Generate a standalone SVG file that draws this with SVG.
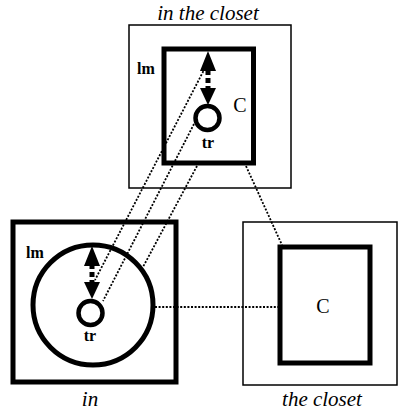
<svg xmlns="http://www.w3.org/2000/svg" width="400" height="413" viewBox="0 0 400 413">
<style>
.thin{fill:none;stroke:#000;stroke-width:1.5}
.thick{fill:none;stroke:#000;stroke-width:5}
.ring{fill:#fff;stroke:#000;stroke-width:4.5}
.head{fill:#000}
.shaft{stroke:#000;stroke-width:5;stroke-dasharray:5 3}
.dot{fill:none;stroke:#000;stroke-width:1.8;stroke-dasharray:2 1.6}
.title{font-family:"Liberation Serif",serif;font-style:italic;font-size:21px;text-anchor:middle}
.lab{font-family:"Liberation Serif",serif;font-weight:bold;font-size:16px}
.c{font-family:"Liberation Serif",serif;font-size:20px;text-anchor:middle}
</style>
<rect width="400" height="413" fill="#fff"/>
<g id="in-the-closet">
<rect class="thin" x="129" y="25" width="162" height="163"/>
<rect class="thick" x="164" y="49" width="89.5" height="114"/>
<text class="title" x="208" y="20">in the closet</text>
<text class="lab" x="137" y="74">lm</text>
<text class="c" x="240" y="112">C</text>
<line class="shaft" x1="208" y1="70" x2="208" y2="90"/>
<polygon class="head" points="208,51 200,71 216,71"/>
<polygon class="head" points="208,105 200,88 216,88"/>
<circle class="ring" cx="207.5" cy="118" r="12"/>
<text class="lab" x="208" y="148" text-anchor="middle">tr</text>
</g>
<g id="in">
<rect class="thick" x="13" y="222" width="163" height="160"/>
<circle class="thick" cx="93" cy="305" r="60"/>
<text class="title" x="90" y="406">in</text>
<text class="lab" x="26" y="258">lm</text>
<line class="shaft" x1="92" y1="264" x2="92" y2="284"/>
<polygon class="head" points="92,246 84,266 100,266"/>
<polygon class="head" points="92,299 84,282 100,282"/>
<circle class="ring" cx="90.5" cy="313" r="12"/>
<text class="lab" x="90" y="341" text-anchor="middle">tr</text>
</g>
<g id="the-closet">
<rect class="thin" x="243" y="222" width="154" height="163"/>
<rect class="thick" x="280" y="247" width="90" height="116"/>
<text class="c" x="323" y="313">C</text>
<text class="title" x="322" y="406">the closet</text>
</g>
<g id="connectors">
<line class="dot" x1="205" y1="68" x2="95" y2="280"/>
<line class="dot" x1="194" y1="124" x2="103" y2="301"/>
<line class="dot" x1="197" y1="166" x2="143" y2="267"/>
<line class="dot" x1="246" y1="166" x2="282" y2="245"/>
<line class="dot" x1="155" y1="307" x2="278" y2="307"/>
</g>
</svg>
